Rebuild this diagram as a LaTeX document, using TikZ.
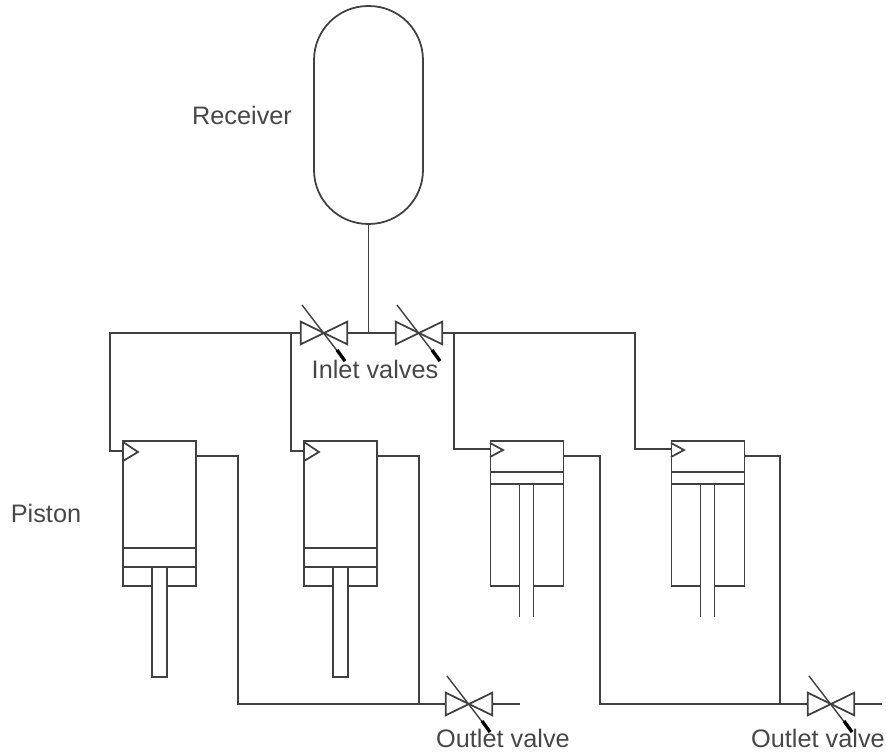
\documentclass[tikz,border=0pt]{standalone}
\usepackage{fontspec}
\setmainfont{Liberation Sans}
\usetikzlibrary{arrows.meta, positioning, calc}

\tikzset{
    pipe/.style={line width=1pt, draw=black!75},
    valvebox/.style={minimum width=0.92cm, minimum height=0.44cm, inner sep=0pt},
    cylbox/.style={pipe, minimum width=1.46cm, minimum height=2.9cm, inner sep=0pt},
    tankbox/.style={pipe, rounded corners=1.08cm, minimum width=2.18cm, minimum height=4.36cm, inner sep=0pt},
    rodbox/.style={pipe, fill=white, minimum width=0.29cm, minimum height=2.2cm, inner sep=0pt},
    lbl/.style={text=black!72, inner sep=0pt, font=\fontsize{14.4}{16}\selectfont}
}

% bow-tie valve body with its slanted stem
\newcommand{\valvesym}[1]{
    \draw[pipe] (#1.north west) -- (#1.south east) -- (#1.north east) -- (#1.south west) -- cycle;
    \draw[pipe, line width=0.8pt] ($(#1.center)+(-22,-28)$) -- ($(#1.center)+(21,28)$);
    \draw[black, line width=1.9pt] ($(#1.center)+(13,17)$) -- ($(#1.center)+(21,28)$);
}

\begin{document}
\begin{tikzpicture}[x=0.02cm, y=-0.02cm]
    \useasboundingbox (0,0) rectangle (886,753);

    % Receiver
    \node[tankbox] (tank) at (368.5,115) {};
    \node[lbl] (tanklabel) at (242,115) {Receiver};

    % Valves
    \node[valvebox] (v1) at (324,333) {};
    \node[valvebox] (v2) at (419,333) {};
    \node[valvebox] (v3) at (469,704) {};
    \node[valvebox] (v4) at (831,704) {};
    \foreach \v in {v1, v2, v3, v4} {
        \valvesym{\v}
    }
    \coordinate (top) at (368.5,333);
    \coordinate (end3) at (520,704);
    \coordinate (end4) at (882,704);

    % Cylinders with rod out
    \foreach \x/\name in {159.5/p1, 340.5/p2} {
        \node[cylbox] (\name) at (\x,513.5) {};
        \draw[pipe] (\x-36.5,548) -- (\x+36.5,548);
        \draw[pipe] (\x-36.5,567) -- (\x+36.5,567);
        \node[rodbox] (\name-rod) at (\x,622) {};
        \draw[pipe] (\x-36.5,442) -- (\x-21.5,452) -- (\x-36.5,461);
        \coordinate (\name-in) at (\x-36.5,451);
        \coordinate (\name-out) at (\x+36.5,456);
    }

    % Cylinders with rod in
    \foreach \x/\name in {527/p3, 708/p4} {
        \node[cylbox] (\name) at (\x,513.5) {};
        \draw[pipe] (\x-37,472) -- (\x+37,472);
        \draw[pipe] (\x-37,484) -- (\x+37,484);
        \fill[white] (\x-7,580) rectangle (\x+6,592);
        \draw[pipe] (\x-7.5,484) -- (\x-7.5,617);
        \draw[pipe] (\x+6.5,484) -- (\x+6.5,617);
        \draw[pipe] (\x-37,443) -- (\x-24,450) -- (\x-37,457);
        \coordinate (\name-in) at (\x-37,449);
        \coordinate (\name-out) at (\x+37,456);
    }

    % Inlet pipes
    \draw[pipe] (tank.south) -- (top);
    \draw[pipe] (v1.east) -- (v2.west);
    \draw[pipe] (v1.west) -| ($(p1-in)+(-13,0)$) -- (p1-in);
    \draw[pipe] (v1.west) -| ($(p2-in)+(-13,0)$) -- (p2-in);
    \draw[pipe] (v2.east) -| ($(p3-in)+(-36,0)$) -- (p3-in);
    \draw[pipe] (v2.east) -| ($(p4-in)+(-36,0)$) -- (p4-in);

    % Outlet pipes
    \draw[pipe] (p1-out) -| ($(v3.west)+(-208,0)$) -- (v3.west);
    \draw[pipe] (p2-out) -| ($(v3.west)+(-27,0)$) -- (v3.west);
    \draw[pipe] (p3-out) -| ($(v4.west)+(-208,0)$) -- (v4.west);
    \draw[pipe] (p4-out) -| ($(v4.west)+(-28,0)$) -- (v4.west);
    \draw[pipe] (v3.east) -- (end3);
    \draw[pipe] (v4.east) -- (end4);

    % Labels
    \node[lbl] (inletlabel) at (375,369) {Inlet valves};
    \node[lbl] (pistonlabel) at (46,513) {Piston};
    \node[lbl] (outlabel1) at (503,738) {Outlet valve};
    \node[lbl] (outlabel2) at (818,738) {Outlet valve};
\end{tikzpicture}
\end{document}
